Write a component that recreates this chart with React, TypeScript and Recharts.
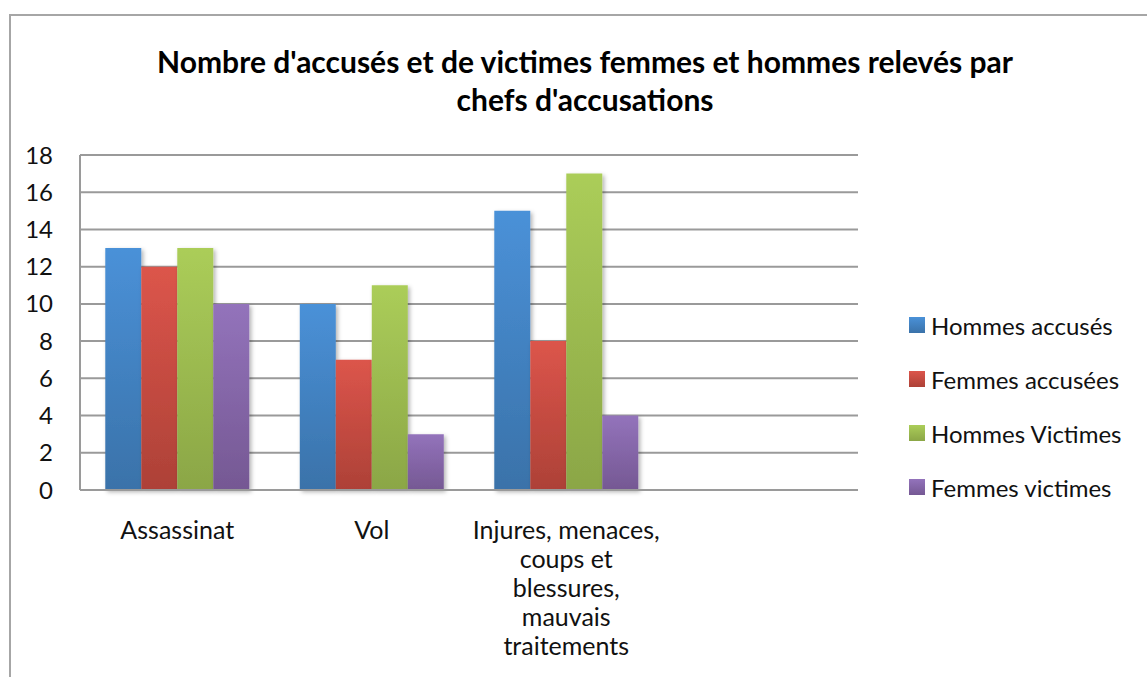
import { BarChart, Bar, XAxis, YAxis, CartesianGrid, Legend } from 'recharts';

const categories = [
  'Assassinat',
  'Vol',
  'Injures, menaces, coups et blessures, mauvais traitements',
  '',
];

// line breaks as in the original category labels
const categoryLines: Record<string, string[]> = {
  'Injures, menaces, coups et blessures, mauvais traitements': [
    'Injures, menaces,',
    'coups et',
    'blessures,',
    'mauvais',
    'traitements',
  ],
};

const hommesAccuses = [13, 10, 15, null];
const femmesAccusees = [12, 7, 8, null];
const hommesVictimes = [13, 11, 17, null];
const femmesVictimes = [10, 3, 4, null];

const yTicks = [0, 2, 4, 6, 8, 10, 12, 14, 16, 18];

const SERIES = [
  { key: 'hommesAccuses', name: 'Hommes accusés', top: '#4a91d8', bottom: '#3a72a9' },
  { key: 'femmesAccusees', name: 'Femmes accusées', top: '#dc554b', bottom: '#ad4137' },
  { key: 'hommesVictimes', name: 'Hommes Victimes', top: '#abcd59', bottom: '#8ba646' },
  { key: 'femmesVictimes', name: 'Femmes victimes', top: '#9373bb', bottom: '#755893' },
];

const data = categories.map((cat, i) => ({
  category: cat,
  hommesAccuses: hommesAccuses[i],
  femmesAccusees: femmesAccusees[i],
  hommesVictimes: hommesVictimes[i],
  femmesVictimes: femmesVictimes[i],
}));

const FONT = 'Lato, "Open Sans", sans-serif';
const GRID = '#9a9a9a';

function CategoryTick(props: any) {
  const { x, y, payload } = props;
  const lines = categoryLines[payload.value] || [payload.value];
  return (
    <g transform={`translate(${x},${y})`}>
      {lines.map((line, i) => (
        <text
          key={i}
          x={0}
          y={37 + i * 29}
          textAnchor="middle"
          dominantBaseline="central"
          fontSize={25}
          fontFamily={FONT}
          fill="#111"
        >
          {line}
        </text>
      ))}
    </g>
  );
}

function LegendBox() {
  return (
    <div style={{ fontFamily: FONT, fontSize: 24, color: '#111' }}>
      {SERIES.map((s) => (
        <div key={s.key} style={{ display: 'flex', alignItems: 'center', height: 54 }}>
          <svg width={16} height={16} style={{ marginRight: 6 }}>
            <rect width={16} height={16} fill={`url(#grad-${s.key})`} />
          </svg>
          <span>{s.name}</span>
        </div>
      ))}
    </div>
  );
}

export default function App() {
  return (
    <div style={{ position: 'relative', width: 1147, height: 677, overflow: 'hidden', background: '#fff' }}>
      <style>{'body{margin:0}'}</style>
      <div
        style={{
          position: 'absolute',
          left: 9,
          top: 14,
          width: 1300,
          height: 800,
          border: '2px solid #a6a6a6',
        }}
      />
      <div
        style={{
          position: 'absolute',
          left: 0,
          width: 1170,
          top: 42,
          textAlign: 'center',
          fontFamily: FONT,
          fontWeight: 'bold',
          fontSize: 30,
          lineHeight: '38px',
          color: '#000',
        }}
      >
        <div>Nombre d'accusés et de victimes femmes et hommes relevés par</div>
        <div>chefs d'accusations</div>
      </div>
      <div style={{ position: 'absolute', left: 0, top: 0 }}>
        <BarChart
          width={1147}
          height={677}
          data={data}
          margin={{ top: 155, right: 51, bottom: 7, left: 10 }}
          barCategoryGap="13%"
          barGap={0}
        >
          <defs>
            {SERIES.map((s) => (
              <linearGradient key={s.key} id={`grad-${s.key}`} x1="0" y1="0" x2="0" y2="1">
                <stop offset="0%" stopColor={s.top} />
                <stop offset="100%" stopColor={s.bottom} />
              </linearGradient>
            ))}
            <filter id="barShadow" x="-20%" y="-10%" width="150%" height="130%">
              <feDropShadow dx="2" dy="2" stdDeviation="2" floodColor="#000" floodOpacity="0.3" />
            </filter>
          </defs>
          <CartesianGrid vertical={false} stroke={GRID} strokeWidth={2} />
          <XAxis
            dataKey="category"
            height={180}
            tickSize={0}
            axisLine={{ stroke: GRID, strokeWidth: 2 }}
            tick={<CategoryTick />}
            interval={0}
          />
          <YAxis
            width={70}
            domain={[0, 18]}
            ticks={yTicks}
            tickSize={0}
            tickMargin={27}
            axisLine={{ stroke: GRID, strokeWidth: 2 }}
            tick={{ fontSize: 24, fontFamily: FONT, fill: '#111' }}
          />
          <Legend
            content={<LegendBox />}
            layout="horizontal"
            verticalAlign="middle"
            align="right"
            wrapperStyle={{ position: 'absolute', left: 909, top: 298, width: 238 }}
          />
          {SERIES.map((s) => (
            <Bar
              key={s.key}
              dataKey={s.key}
              name={s.name}
              fill={`url(#grad-${s.key})`}
              filter="url(#barShadow)"
              isAnimationActive={false}
            />
          ))}
        </BarChart>
      </div>
    </div>
  );
}
